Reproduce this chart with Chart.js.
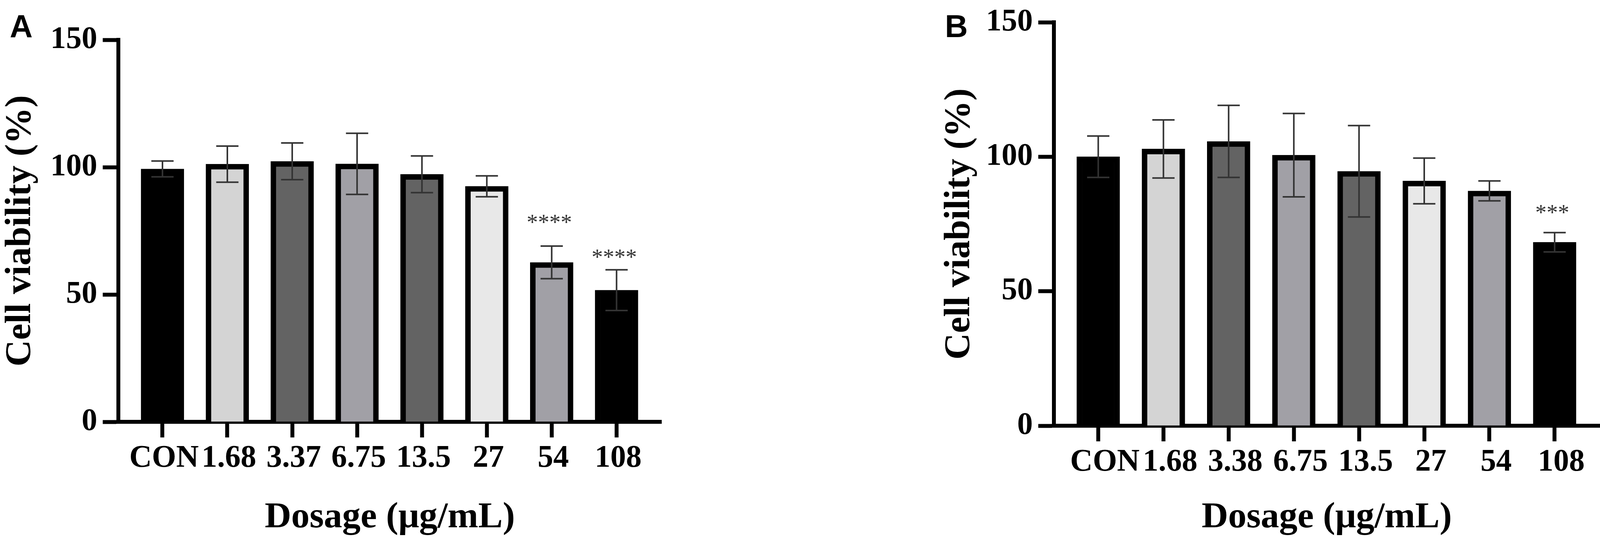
<!DOCTYPE html>
<html>
<head>
<meta charset="utf-8">
<title>Cell viability</title>
<script src="https://cdn.jsdelivr.net/npm/chart.js@4.4.1/dist/chart.umd.min.js"></script>
<style>
  html, body { margin: 0; padding: 0; background: #fff; }
  body { width: 4109px; height: 1380px; position: relative; overflow: hidden; }
  canvas { position: absolute; top: 0; }
  #chartA { left: 0; }
  #chartB { left: 2350px; }
  .panel-label {
    position: absolute; top: 21px; line-height: 1;
    font: bold 81px "Liberation Sans", Arial, sans-serif; color: #000;
  }
</style>
</head>
<body>
<div class="panel-label" style="left:25px">A</div>
<div class="panel-label" style="left:2419px">B</div>
<canvas id="chartA" width="1760" height="1380"></canvas>
<canvas id="chartB" width="1759" height="1380"></canvas>

<script>
// --- Data panel A ---
const dosageA = ['CON', '1.68', '3.37', '6.75', '13.5', '27', '54', '108'];
const viabilityA = [99.3, 101.2, 102.3, 101.3, 97.2, 92.5, 62.6, 51.7];
const sdA = [3.1, 7.1, 7.2, 12.0, 7.2, 4.1, 6.4, 8.0];
const starsA = ['', '', '', '', '', '', '****', '****'];
const starLevelA = [null, null, null, null, null, null, 80.1, 66.4];

// --- Data panel B ---
const dosageB = ['CON', '1.68', '3.38', '6.75', '13.5', '27', '54', '108'];
const viabilityB = [100.0, 102.9, 105.7, 100.6, 94.6, 91.0, 87.3, 68.2];
const sdB = [7.7, 10.8, 13.4, 15.5, 17.0, 8.5, 3.7, 3.6];
const starsB = ['', '', '', '', '', '', '', '***'];
const starLevelB = [null, null, null, null, null, null, null, 80.9];

// sumbu y sama untuk kedua panel
const yTicks = [0, 50, 100, 150];

const barColors = ['#000000', '#d4d4d4', '#636363', '#a1a0a6', '#636363', '#e8e8e8', '#a1a0a6', '#000000'];

const serif = '"Liberation Serif", "Times New Roman", serif';
const tickFont = { family: serif, size: 80, weight: 'bold', lineHeight: 1 };
const titleFont = { family: serif, size: 94, weight: 'bold', lineHeight: 1 };

// error bar (SD) + tanda bintang signifikansi
const errorBarPlugin = {
    id: 'errorBars',
    afterDatasetsDraw(chart, args, opts) {
        const { ctx } = chart;
        const x = chart.scales.x, y = chart.scales.y;
        const points = chart.data.datasets[0].data;
        const half = opts.capWidth / 2;

        ctx.save();
        ctx.strokeStyle = opts.color;
        ctx.lineWidth = opts.lineWidth;
        points.forEach((p, i) => {
            const px = x.getPixelForValue(p.x);
            const top = y.getPixelForValue(p.y + opts.sd[i]);
            const bot = y.getPixelForValue(p.y - opts.sd[i]);
            ctx.beginPath();
            ctx.moveTo(px, top); ctx.lineTo(px, bot);
            ctx.moveTo(px - half, top); ctx.lineTo(px + half, top);
            ctx.moveTo(px - half, bot); ctx.lineTo(px + half, bot);
            ctx.stroke();
        });

        ctx.fillStyle = '#333';
        ctx.font = '58px ' + serif;
        ctx.textAlign = 'center';
        ctx.textBaseline = 'alphabetic';
        opts.stars.forEach((s, i) => {
            if (!s) return;
            ctx.fillText(s, x.getPixelForValue(i) - 6, y.getPixelForValue(opts.starLevel[i]) + 30);
        });
        ctx.restore();
    }
};

function makeChart(id, cats, values, sd, stars, starLevel, L) {
    const axisGrid = {
        display: true, drawOnChartArea: false, drawTicks: true, offset: false,
        tickLength: 40, tickWidth: 10, tickColor: '#000', color: '#000'
    };
    const axisBorder = { display: true, width: 10, color: '#000' };

    return new Chart(document.getElementById(id), {
        type: 'bar',
        data: {
            datasets: [{
                data: values.map((v, i) => ({ x: i, y: v })),
                backgroundColor: barColors,
                borderColor: '#000',
                borderWidth: 14,
                borderSkipped: 'start',
                barThickness: 110
            }]
        },
        options: {
            responsive: false,
            animation: false,
            devicePixelRatio: 1,
            layout: { padding: { top: L.padTop, right: L.padRight, left: 0, bottom: 0 } },
            plugins: {
                legend: { display: false },
                tooltip: { enabled: false },
                errorBars: { sd: sd, stars: stars, starLevel: starLevel, color: '#333', lineWidth: 4, capWidth: 57 }
            },
            scales: {
                x: {
                    type: 'linear', min: -0.68, max: 7.69, offset: false, z: 1,
                    afterBuildTicks: s => { s.ticks = cats.map((c, i) => ({ value: i })); },
                    afterFit: s => { s.height = L.xHeight; },
                    ticks: {
                        callback: (v, i) => cats[i],
                        font: tickFont, color: '#000', padding: 14,
                        labelOffset: L.labelOffset, autoSkip: false, maxRotation: 0
                    },
                    grid: axisGrid,
                    border: axisBorder,
                    title: { display: true, text: 'Dosage (μg/mL)', font: titleFont, color: '#000', padding: { top: 0, bottom: 7 } }
                },
                y: {
                    min: 0, max: 150, z: 1,
                    afterBuildTicks: s => { s.ticks = yTicks.map(v => ({ value: v })); },
                    afterFit: s => { s.width = L.axisLeft; },
                    ticks: { font: tickFont, color: '#000', padding: 14 },
                    grid: axisGrid,
                    border: axisBorder,
                    title: { display: true, text: 'Cell viability (%)', font: titleFont, color: '#000', padding: { top: L.yTitlePad, bottom: 0 } }
                }
            }
        },
        plugins: [errorBarPlugin]
    });
}

makeChart('chartA', dosageA, viabilityA, sdA, starsA, starLevelA,
    { axisLeft: 303, padTop: 102, padRight: 67, xHeight: 300, yTitlePad: 6, labelOffset: 4 });
makeChart('chartB', dosageB, viabilityB, sdB, starsB, starLevelB,
    { axisLeft: 348, padTop: 57, padRight: 14, xHeight: 290, yTitlePad: 60, labelOffset: 17 });
</script>
</body>
</html>
